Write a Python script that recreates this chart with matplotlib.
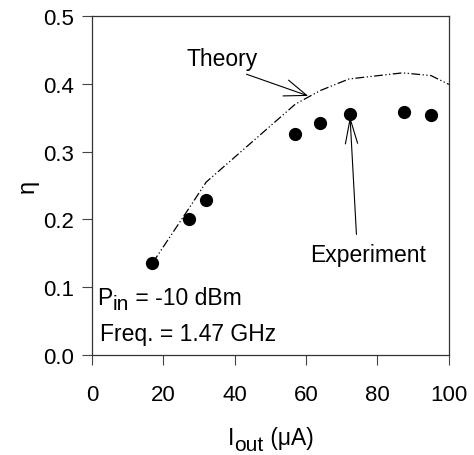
#!/usr/bin/env python3
"""Efficiency vs output current: theory curve and measured points."""

import matplotlib
matplotlib.use("Agg")
import matplotlib.pyplot as plt
import matplotlib.transforms as mtransforms

plt.rcParams["font.family"] = ["Liberation Sans", "DejaVu Sans"]

# theory curve
theory_x = [17, 27, 32, 57, 64, 72, 87, 95, 100]
theory_y = [0.136, 0.215, 0.255, 0.370, 0.390, 0.407, 0.416, 0.412, 0.399]

# measured points
exp_x = [16.7, 27.1, 32.0, 57.0, 64.0, 72.3, 87.4, 95.0]
exp_y = [0.136, 0.200, 0.229, 0.326, 0.342, 0.355, 0.359, 0.354]

x_ticks = [0, 20, 40, 60, 80, 100]
y_ticks = [0.0, 0.1, 0.2, 0.3, 0.4, 0.5]


def rich_text(fig, x, y, pieces, transform, center=False):
    """Draw text made of (string, size, dy) pieces one after another."""
    renderer = fig.canvas.get_renderer()
    texts, widths = [], []
    for s, size, dy in pieces:
        t = fig.text(x, y, s, fontsize=size, ha="left", va="baseline",
                     transform=transform)
        texts.append((t, dy))
        widths.append(t.get_window_extent(renderer).width)
    start = -sum(widths) / 2 if center else 0
    off = start
    for (t, dy), w in zip(texts, widths):
        t.set_transform(mtransforms.offset_copy(transform, fig=fig, x=off,
                                                y=dy, units="dots"))
        off += w


fig = plt.figure(figsize=(4.74, 4.56), dpi=100)
ax = fig.add_axes([0.194, 0.219, 0.753, 0.744])

ax.plot(theory_x, theory_y, color="black", lw=0.9,
        linestyle=(0, (7, 2, 1, 2, 1, 2)))
ax.plot(exp_x, exp_y, "o", color="black", ms=8.5)

ax.set_xlim(0, 100)
ax.set_ylim(0, 0.5)
ax.set_xticks(x_ticks)
ax.set_yticks(y_ticks)
ax.set_yticklabels([f"{v:.1f}" for v in y_ticks])
ax.tick_params(axis="both", direction="out", length=7, width=0.8,
               labelsize=16, color="#444444")
ax.tick_params(axis="y", pad=6)
ax.tick_params(axis="x", pad=14)
for s in ax.spines.values():
    s.set_linewidth(0.9)
    s.set_color("#333333")

ax.set_ylabel("η", fontsize=17)
ax.yaxis.set_label_coords(-0.15, 0.5)

# x label with a near full-size subscript
rich_text(fig, 0.571, 0.024,
          [("I", 16.5, 0), ("out", 15, -6), (" (μA)", 16.5, 0)],
          fig.transFigure, center=True)

ax.text(36.4, 0.437, "Theory", fontsize=16.5, ha="center", va="center")
ax.annotate("", xy=(60.6, 0.382), xytext=(43.3, 0.414),
            arrowprops=dict(arrowstyle="->,head_length=0.8,head_width=0.3",
                            color="black", lw=0.8, mutation_scale=20,
                            shrinkA=0, shrinkB=0))
ax.text(61, 0.149, "Experiment", fontsize=16.5, ha="left", va="center")
ax.annotate("", xy=(72.3, 0.352), xytext=(74.1, 0.178),
            arrowprops=dict(arrowstyle="->,head_length=0.9,head_width=0.22",
                            color="black", lw=0.8, mutation_scale=20,
                            shrinkA=0, shrinkB=0))

rich_text(fig, 1.5, 0.075,
          [("P", 16.5, 0), ("in", 15, -5), (" = -10 dBm", 16.5, 0)],
          ax.transData)
ax.text(2.2, 0.022, "Freq. = 1.47 GHz", fontsize=16.5, ha="left",
        va="baseline")

fig.savefig("out.png", dpi=100)
